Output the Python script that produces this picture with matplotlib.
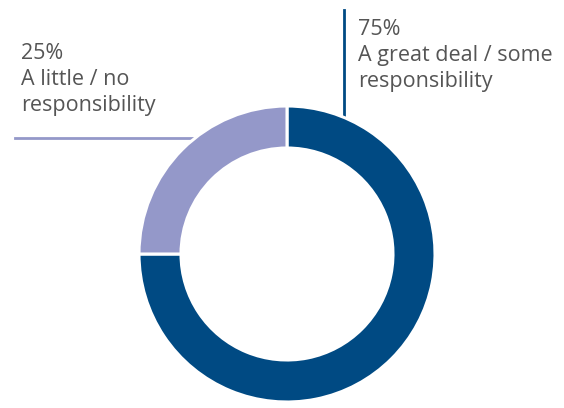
import matplotlib.pyplot as plt

labels = ["A great deal / some\nresponsibility", "A little / no\nresponsibility"]
shares = [75, 25]
colors = ["#004a83", "#9498c9"]

W, H = 564, 408
fig = plt.figure(figsize=(W / 100, H / 100), dpi=100)
ax = fig.add_axes([0, 0, 1, 1])

cx, cy, r = 287, H - 254, 148
ring = 42

# leader lines (drawn under the ring, ending at its outer edge)
ax.plot([15, cx - 88], [H - 138, H - 138], color=colors[1], lw=2, zorder=1)
ax.plot([344, 344], [H - 10, cy + 132], color=colors[0], lw=2, zorder=1)

ax.pie(shares, colors=colors, startangle=90, counterclock=False,
       center=(cx, cy), radius=r, frame=True,
       wedgeprops=dict(width=ring, edgecolor="white", linewidth=2.2, zorder=2))
ax.set_xlim(0, W)
ax.set_ylim(0, H)
ax.axis("off")

txt = dict(fontsize=15.5, color="#555555", family="Open Sans", va="top",
           linespacing=1.3)
ax.text(21, H - 43, f"{shares[1]}%\n" + labels[1], **txt)
ax.text(358, H - 19, f"{shares[0]}%\n" + labels[0], **txt)

fig.savefig("out.png", dpi=100)
